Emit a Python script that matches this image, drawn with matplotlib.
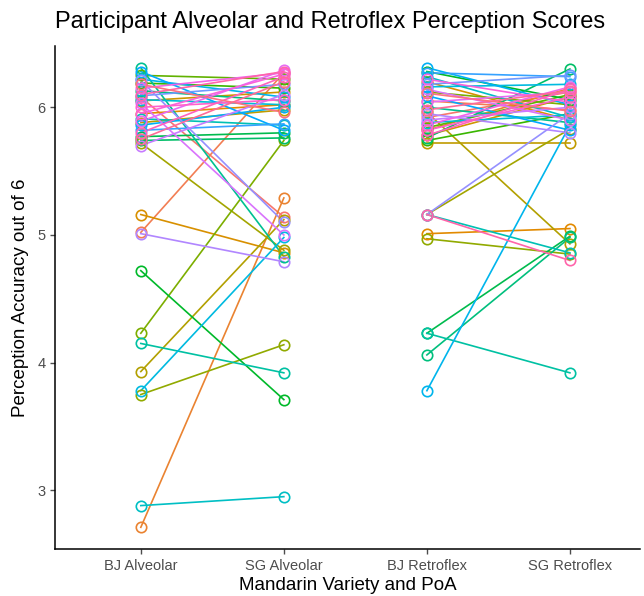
import numpy as np
import matplotlib
matplotlib.use("Agg")
import matplotlib.pyplot as plt

categories = ["BJ Alveolar", "SG Alveolar", "BJ Retroflex", "SG Retroflex"]

# per participant scores (jittered as in the plot)
bj_alveolar = [6.08, 5.02, 2.71, 5.95, 5.16, 6.05, 5.88, 3.93, 5.72, 3.75,
               4.23, 6.25, 6.19, 4.72, 5.77, 5.74, 6.13, 6.31, 4.15, 5.91,
               2.88, 6.06, 3.78, 6.22, 5.86, 6.28, 5.82, 6.09, 6.21, 5.01,
               5.70, 6.03, 5.89, 6.15, 5.95, 6.00, 5.80, 6.10, 5.75, 6.18]
sg_alveolar = [5.14, 6.27, 5.29, 6.02, 4.86, 6.12, 5.98, 5.12, 4.88, 4.14,
               5.74, 6.22, 6.15, 3.71, 5.80, 5.76, 6.05, 4.83, 3.92, 5.86,
               2.95, 6.02, 4.98, 6.08, 6.00, 5.82, 5.87, 6.18, 5.10, 4.79,
               6.10, 5.00, 6.29, 6.27, 6.26, 6.06, 6.24, 6.28, 6.20, 5.96]
bj_retroflex = [5.92, 6.05, 5.82, 5.01, 6.20, 5.78, 5.72, 5.96, 5.16, 4.97,
                6.12, 5.84, 5.74, 6.28, 4.23, 5.76, 4.06, 6.00, 4.23, 5.16,
                6.24, 5.88, 6.16, 3.78, 6.31, 6.09, 6.27, 6.18, 5.16, 5.95,
                5.90, 6.14, 6.04, 5.86, 6.22, 5.82, 5.78, 5.16, 5.98, 6.11]
sg_retroflex = [6.12, 5.98, 6.15, 5.05, 5.90, 6.08, 5.72, 4.93, 5.83, 4.85,
                6.02, 6.10, 5.95, 6.06, 4.99, 6.30, 4.98, 5.88, 3.92, 4.86,
                5.92, 5.94, 6.18, 5.86, 6.02, 5.82, 6.24, 6.25, 5.95, 5.80,
                6.00, 5.90, 6.12, 6.16, 6.04, 6.08, 6.14, 4.80, 6.13, 5.97]


def hue_colors(n, l=65, c=100):
    # ggplot2 style hcl hue palette
    hues = np.linspace(15, 375, n + 1)[:n]
    Xn, Yn, Zn = 95.047, 100.0, 108.883
    un = 4 * Xn / (Xn + 15 * Yn + 3 * Zn)
    vn = 9 * Yn / (Xn + 15 * Yn + 3 * Zn)
    Y = Yn * ((l + 16) / 116) ** 3
    out = []
    for h in hues:
        u = c * np.cos(np.radians(h))
        v = c * np.sin(np.radians(h))
        up = u / (13 * l) + un
        vp = v / (13 * l) + vn
        X = Y * 9 * up / (4 * vp)
        Z = Y * (12 - 3 * up - 20 * vp) / (4 * vp)
        xyz = np.array([X, Y, Z]) / 100
        m = np.array([[3.2404542, -1.5371385, -0.4985314],
                      [-0.9692660, 1.8760108, 0.0415560],
                      [0.0556434, -0.2040259, 1.0572252]])
        rgb = m @ xyz
        rgb = np.where(rgb <= 0.0031308, 12.92 * rgb,
                       1.055 * np.clip(rgb, 0, None) ** (1 / 2.4) - 0.055)
        out.append(tuple(np.clip(rgb, 0, 1)))
    return out


n = len(bj_alveolar)
colors = hue_colors(n)

fig = plt.figure(figsize=(6.44, 5.96), dpi=100)
ax = fig.add_axes([55 / 644, 47 / 596, 585 / 644, 503 / 596])

for i in range(n):
    for xs, ys in (([1, 2], [bj_alveolar[i], sg_alveolar[i]]),
                   ([3, 4], [bj_retroflex[i], sg_retroflex[i]])):
        ax.plot(xs, ys, color=colors[i], lw=1.2, zorder=2)
        ax.plot(xs, ys, linestyle="none", marker="o", ms=7.5, mfc="none",
                mec=colors[i], mew=1.2, zorder=3)

ax.set_xlim(0.4, 4.49)
ax.set_ylim(2.54, 6.48)
ax.set_xticks([1, 2, 3, 4])
ax.set_xticklabels(categories)
ax.set_yticks([3, 4, 5, 6])
ax.tick_params(colors="#4D4D4D", labelsize=10.5, length=3.5, width=1)
for lab in ax.get_xticklabels() + ax.get_yticklabels():
    lab.set_family("Liberation Sans")
for s in ["top", "right"]:
    ax.spines[s].set_visible(False)
for s in ["left", "bottom"]:
    ax.spines[s].set_linewidth(1.1)

ax.set_xlabel("Mandarin Variety and PoA", fontsize=13.5, family="Liberation Sans", labelpad=3)
ax.set_ylabel("Perception Accuracy out of 6", fontsize=13.5, family="Liberation Sans", labelpad=6)
ax.set_title("Participant Alveolar and Retroflex Perception Scores", fontsize=17,
             family="Liberation Sans", loc="left", pad=13)

fig.savefig("out.png", dpi=100)
